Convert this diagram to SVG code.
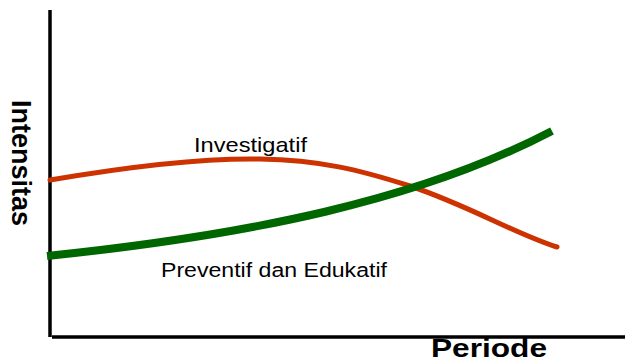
<svg xmlns="http://www.w3.org/2000/svg" width="625" height="362" viewBox="0 0 625 362">
<style>
.axis{stroke:#000;stroke-width:3.5;fill:none}
.lbl{font-family:"Liberation Sans",Arial,sans-serif;fill:#000}
.ttl{font-family:"Liberation Sans",Arial,sans-serif;font-weight:bold;fill:#000}
</style>
<rect width="625" height="362" fill="#fff"/>
<g id="axes">
<line class="axis" x1="50" y1="10" x2="50" y2="337"/>
<line class="axis" x1="52" y1="337" x2="625" y2="337"/>
</g>
<g id="connectors">
<path id="investigatif-curve" d="M50,180 C120,168 200,158 260,159 C320,160 360,170 410,186 C470,206 515,234 557,247" fill="none" stroke="#CC3300" stroke-width="5" stroke-linecap="round"/>
<path id="preventif-curve" d="M47,256 C250,235 420,200 552,131" fill="none" stroke="#006600" stroke-width="8"/>
</g>
<g id="labels">
<text class="lbl" x="194" y="152" font-size="21" textLength="113" lengthAdjust="spacingAndGlyphs">Investigatif</text>
<text class="lbl" x="161" y="277" font-size="20" textLength="226" lengthAdjust="spacingAndGlyphs">Preventif dan Edukatif</text>
<text class="ttl" x="431" y="357" font-size="25" textLength="116" lengthAdjust="spacingAndGlyphs">Periode</text>
<text class="ttl" transform="translate(12,100) rotate(90)" x="0" y="0" font-size="28" textLength="126" lengthAdjust="spacingAndGlyphs">Intensitas</text>
</g>
</svg>
